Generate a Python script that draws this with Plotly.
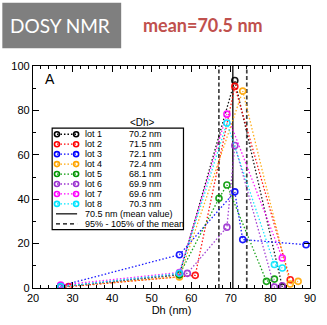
import plotly.graph_objects as go

# ---- data ----
lot_names = ["lot 1", "lot 2", "lot 3", "lot 4", "lot 5", "lot 6", "lot 7", "lot 8"]
lot_means = ["70.2 nm", "71.5 nm", "72.1 nm", "72.4 nm", "68.1 nm", "69.9 nm", "69.6 nm", "70.3 nm"]
lot_colors = ["#000000", "#ff0000", "#0000ff", "#ffa500", "#009900", "#9b30d0", "#ff00ff", "#00e5ff"]

lot1_x = [27, 57, 71, 83]
lot1_y = [0.5, 6.0, 93.5, 0.5]
lot2_x = [29, 61, 71, 85]
lot2_y = [0.6, 5.7, 90.8, 3.7]
lot3_x = [27, 57, 71, 73, 89]
lot3_y = [1.0, 15.0, 43.3, 21.8, 19.5]
lot4_x = [27, 57, 73, 85, 87]
lot4_y = [0.5, 5.0, 88.7, 1.8, 3.0]
lot5_x = [27, 57, 67, 69, 79, 81]
lot5_y = [0.5, 6.0, 40.4, 46.4, 3.0, 4.0]
lot6_x = [27, 59, 69, 71, 81, 83]
lot6_y = [0.5, 6.6, 27.4, 64.2, 0.4, 1.0]
lot7_x = [27, 57, 69, 83]
lot7_y = [1.3, 7.0, 78.3, 13.5]
lot8_x = [27, 57, 69, 81, 83]
lot8_y = [0.6, 6.6, 74.3, 10.6, 9.0]

mean_value = 70.5
band_low = 0.95 * mean_value
band_high = 1.05 * mean_value

xs = [lot1_x, lot2_x, lot3_x, lot4_x, lot5_x, lot6_x, lot7_x, lot8_x]
ys = [lot1_y, lot2_y, lot3_y, lot4_y, lot5_y, lot6_y, lot7_y, lot8_y]

# ---- layout geometry (pixels) ----
FW, FH = 327, 325
L, R, T, B = 27, 316, 66, 298
W, H = R - L, B - T
DOT = "1.5px,2px"


def px(x):
    return (x - L) / W


def py(y):
    return (B - y) / H


fig = go.Figure()

# reference lines
for xv, dash, col, wd in [(band_low, "4px,2.5px", "#404040", 1.7), (band_high, "4px,2.5px", "#404040", 1.7),
                          (mean_value, "solid", "#000000", 1.3)]:
    fig.add_shape(type="line", x0=xv, x1=xv, y0=0, y1=100, xref="x", yref="y",
                  line=dict(color=col, width=wd, dash=dash), layer="below")

for i in range(8):
    fig.add_trace(go.Scatter(
        x=xs[i], y=ys[i], mode="lines+markers", name=lot_names[i],
        line=dict(color=lot_colors[i], width=1.3, dash=DOT),
        marker=dict(symbol="circle-open", size=6, color=lot_colors[i], line=dict(width=1.6)),
        opacity=0.9, showlegend=False, xaxis="x", yaxis="y"))

# ---- custom legend ----
box = dict(x0=px(47), x1=px(184), y0=py(237), y1=py(131))
fig.add_shape(type="rect", xref="x2", yref="y2", **box,
              line=dict(color="#000000", width=1.2), fillcolor="rgba(255,255,255,0)", layer="above")

row0, dy = 137.3, 10.4
sx0, sx1 = 52, 72
for i in range(8):
    yy = py(row0 + dy * i)
    fig.add_trace(go.Scatter(
        x=[px(sx0), px(sx1)], y=[yy, yy], mode="lines+markers",
        line=dict(color=lot_colors[i], width=1.3, dash=DOT),
        marker=dict(symbol="circle-open", size=5, color=lot_colors[i], line=dict(width=1.6)),
        showlegend=False, xaxis="x2", yaxis="y2", hoverinfo="skip"))
    fig.add_annotation(x=px(79), y=yy, xref="x2", yref="y2", text=lot_names[i],
                       xanchor="left", yanchor="middle", showarrow=False,
                       font=dict(size=9, color="#000000", family="Liberation Sans, Arial"))
    fig.add_annotation(x=px(125), y=yy, xref="x2", yref="y2", text=lot_means[i],
                       xanchor="left", yanchor="middle", showarrow=False,
                       font=dict(size=9, color="#000000", family="Liberation Sans, Arial"))

for j, (txt, dash) in enumerate([(f"{mean_value} nm (mean value)", "solid"),
                                 ("95% - 105% of the mean", "4px,3px")]):
    yy = py(row0 + dy * (8 + j))
    fig.add_shape(type="line", xref="x2", yref="y2", x0=px(sx0 - 1), x1=px(sx1 + 1), y0=yy, y1=yy,
                  line=dict(color="#000000", width=1.2, dash=dash), layer="above")
    fig.add_annotation(x=px(79), y=yy, xref="x2", yref="y2", text=txt,
                       xanchor="left", yanchor="middle", showarrow=False,
                       font=dict(size=9, color="#000000", family="Liberation Sans, Arial"))

fig.add_annotation(x=px(141), y=py(125), xref="x2", yref="y2", text="&lt;Dh&gt;",
                   xanchor="center", yanchor="middle", showarrow=False,
                   font=dict(size=10, color="#000000", family="Liberation Sans, Arial"))

fig.add_annotation(x=px(45), y=py(80), xref="x2", yref="y2", text="A",
                   xanchor="center", yanchor="middle", showarrow=False,
                   font=dict(size=14, color="#000000", family="Liberation Sans, Arial"))

# ---- header ----
fig.add_shape(type="rect", xref="paper", yref="paper", x0=px(-5), x1=px(119), y0=py(47.5), y1=py(0),
              line=dict(width=0), fillcolor="#7f7f7f", layer="above")
fig.add_annotation(x=px(1), y=py(24), xref="paper", yref="paper", text="DOSY NMR",
                   xanchor="left", yanchor="middle", showarrow=False,
                   font=dict(size=19, color="#ffffff", family="Lato"))
fig.add_annotation(x=px(140), y=py(23), xref="paper", yref="paper", text="<b>mean=70.5 nm</b>",
                   xanchor="left", yanchor="middle", showarrow=False,
                   font=dict(size=18, color="#c0504d", family="Lato"))

axfont = dict(size=11, color="#000000", family="Liberation Sans, Arial")
fig.update_layout(
    width=FW, height=FH,
    margin=dict(l=L, r=FW - R, t=T, b=FH - B, pad=0),
    paper_bgcolor="white", plot_bgcolor="white",
    xaxis=dict(range=[20, 90], tick0=20, dtick=10, ticks="inside", ticklen=6, tickwidth=1.2,
               tickcolor="#000000", showline=True, linecolor="#000000", linewidth=1.3,
               mirror="allticks", showgrid=False, zeroline=False, tickfont=axfont,
               minor=dict(dtick=2, ticks="inside", ticklen=3, tickcolor="#000000", tickwidth=1),
               title=dict(text="Dh (nm)", font=axfont, standoff=2)),
    yaxis=dict(range=[0, 100], tick0=0, dtick=20, ticks="inside", ticklen=6, tickwidth=1.2,
               tickcolor="#000000", showline=True, linecolor="#000000", linewidth=1.3,
               mirror="allticks", showgrid=False, zeroline=False, tickfont=axfont,
               minor=dict(dtick=10, ticks="inside", ticklen=3, tickcolor="#000000", tickwidth=1)),
    xaxis2=dict(range=[0, 1], overlaying="x", visible=False, fixedrange=True),
    yaxis2=dict(range=[0, 1], overlaying="y", visible=False, fixedrange=True),
)

fig.write_html("out.html")
